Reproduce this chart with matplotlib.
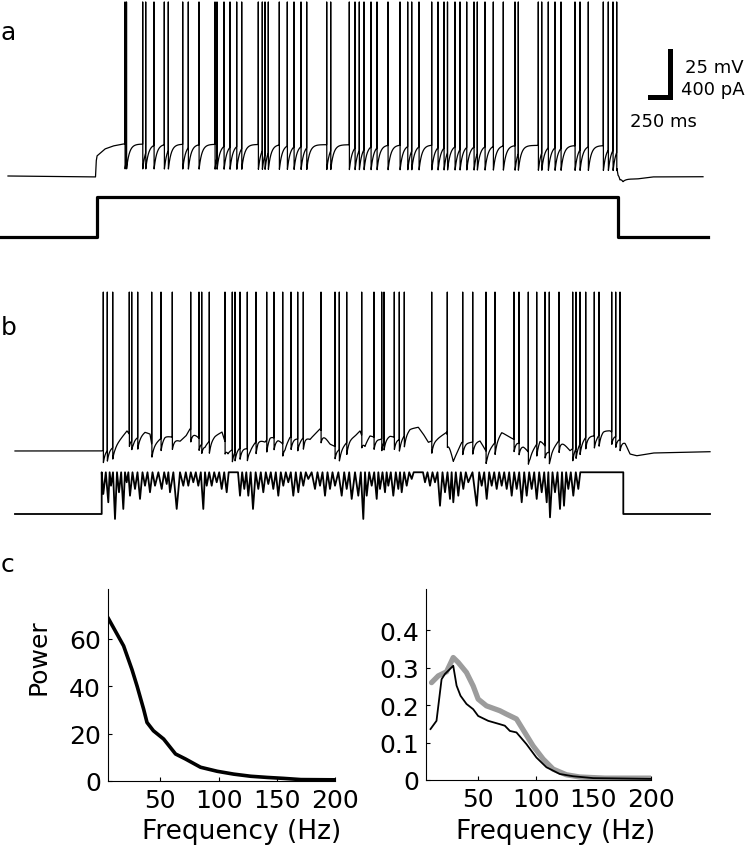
import numpy as np
import matplotlib
matplotlib.use('Agg')
import matplotlib.pyplot as plt

W, H = 746, 853

# ---- panel a: step current, spike times (ms) and membrane potential (mV) ----
a_spikes = [1250, 1265, 1427, 1457, 1540, 1643, 1683, 1827, 1883, 1990, 2150, 2170,
            2240, 2300, 2367, 2417, 2583, 2623, 2650, 2683, 2793, 2873, 2940, 3010,
            3067, 3267, 3307, 3493, 3550, 3593, 3640, 3710, 3770, 3880, 4000, 4077,
            4117, 4190, 4317, 4380, 4440, 4475, 4550, 4600, 4667, 4740, 4773, 4850,
            4933, 5033, 5150, 5183, 5383, 5417, 5483, 5550, 5610, 5750, 5800, 5883,
            6033, 6083, 6130, 6167]
a_sub_t = [80, 955, 962, 970, 1050, 1130, 1230, 6170, 6180, 6200, 6230, 6370, 6530, 7030]
a_sub_v = [-70, -70.5, -62, -59.1, -55.3, -53.7, -52.6, -53.5, -60.8, -67.8, -71.6, -71.6, -70.5, -70.4]
a_step_t = [0, 967, 967, 6183, 6183, 7080]
a_step_i = [0, 0, 350, 350, 0, 0]

# ---- panel b: noisy current injection ----
b_spikes = [1033, 1073, 1127, 1293, 1317, 1377, 1517, 1610, 1723, 1907, 1990, 2017,
            2093, 2250, 2323, 2350, 2400, 2473, 2560, 2667, 2740, 2827, 2910, 2977,
            3033, 3210, 3350, 3393, 3467, 3617, 3740, 3817, 3840, 3943, 3993, 4043,
            4317, 4473, 4627, 4727, 4860, 4950, 5140, 5190, 5283, 5367, 5450, 5493,
            5590, 5727, 5760, 5800, 5857, 5943, 5990, 6117, 6157, 6200]
b_sub_t = [150, 1017, 1150, 1230, 1270, 1330, 1400, 1450, 1500, 1520, 1600, 1650, 1720,
           1800, 1860, 1900, 2000, 2050, 2150, 2220, 2280, 2400, 2500, 2580, 2650, 2700,
           2780, 2850, 2900, 3000, 3050, 3100, 3150, 3200, 3300, 3400, 3500, 3550, 3600,
           3650, 3700, 3800, 3900, 4000, 4100, 4183, 4233, 4283, 4367, 4467, 4533, 4617,
           4700, 4800, 4867, 4950, 5017, 5100, 5167, 5233, 5300, 5400, 5500, 5600, 5700,
           5767, 5867, 5967, 6033, 6100, 6167, 6250, 6300, 6367, 6533, 7100]
b_sub_v = [-70, -70, -67.3, -61.8, -59.1, -63.5, -61.8, -59.7, -60.8, -67.3, -63.5, -61.8,
           -62.4, -64.6, -61.8, -58.0, -63.5, -66.7, -61.8, -59.7, -70.0, -67.8, -68.9,
           -63.5, -65.1, -61.8, -63.5, -67.3, -62.4, -63.5, -61.8, -63.5, -60.8, -58.0,
           -66.2, -68.9, -63.5, -61.8, -59.1, -66.2, -61.7, -63.5, -61.7, -63.5, -58.0,
           -57.1, -60.8, -65.3, -63.5, -59.8, -75.3, -65.3, -65.3, -64.4, -70.7, -65.3,
           -59.8, -62.6, -64.4, -67.1, -71.6, -63.5, -70.7, -63.5, -69.8, -67.1, -61.7,
           -61.7, -59.0, -59.0, -61.7, -65.3, -71.6, -72.6, -71.1, -70.4]

# downward deflections of the injected current (time ms, pA); clipped at the top
b_dip_t = [1033, 1083, 1110, 1150, 1190, 1233, 1267, 1300, 1350, 1400, 1450, 1500, 1550,
           1617, 1667, 1700, 1767, 1833, 1883, 1933, 1983, 2033, 2067, 2117, 2167, 2217,
           2267, 2400, 2443, 2483, 2530, 2583, 2633, 2683, 2733, 2783, 2833, 2883, 2933,
           2983, 3033, 3083, 3150, 3200, 3250, 3300, 3350, 3417, 3467, 3517, 3583, 3633,
           3667, 3717, 3767, 3800, 3850, 3883, 3933, 3983, 4017, 4067, 4117, 4250, 4300,
           4350, 4400, 4450, 4500, 4533, 4583, 4633, 4683, 4767, 4817, 4867, 4917, 4967,
           5017, 5067, 5117, 5167, 5217, 5267, 5317, 5367, 5417, 5467, 5500, 5550, 5600,
           5640, 5683, 5733, 5783]
b_dip_i = [174, 102, 246, -43, 189, 44, 276, 159, 218, 131, 246, 189, 246, 218, 261, 189,
           44, 246, 246, 276, 246, 44, 246, 246, 276, 218, 189, 159, 218, 159, 44, 218,
           189, 261, 218, 159, 246, 276, 159, 189, 246, 305, 218, 246, 159, 218, 246, 159,
           218, 131, 159, -43, 159, 246, 131, 218, 189, 246, 159, 218, 189, 246, 305, 276,
           246, 276, 72, 189, 131, 102, 159, 218, 276, 72, 246, 131, 246, 218, 246, 218,
           159, 218, 102, 159, 218, 131, 189, 102, -29, 189, 44, 72, 218, 159, 218]
b_ceiling = 363
b_on, b_off, b_start, b_end = 1017, 6233, 150, 7100

# ---- panel c: power spectra ----
left_freq = [5.4, 18.4, 25.6, 30, 35.6, 38.5, 44, 52.8, 63, 71.5, 84.5, 98.8, 113,
             127.6, 142, 156, 170.7, 199]
left_power = [68.5, 57, 47, 40, 30.3, 24.7, 21.2, 17.7, 11.4, 9.3, 5.8, 4.1, 2.9, 2.0,
              1.5, 1.1, 0.6, 0.5]
black_freq = [8.9, 14.1, 18.5, 21.4, 28.6, 31.5, 34.9, 40.1, 45.9, 50.2, 58.9, 69, 73.3,
              77.7, 83.4, 92, 100.7, 109.4, 121, 132.5, 150, 175, 200]
black_power = [0.136, 0.158, 0.269, 0.283, 0.305, 0.252, 0.225, 0.203, 0.189, 0.171,
               0.158, 0.149, 0.145, 0.131, 0.127, 0.096, 0.06, 0.034, 0.016, 0.01, 0.005,
               0.004, 0.003]
gray_freq = [9.8, 15.6, 22.8, 28.6, 32.9, 40.1, 45.9, 50.2, 57.4, 69, 74.7, 83.4, 90.6,
             97.8, 106.5, 115.2, 126.7, 138.3, 160, 200]
gray_power = [0.26, 0.278, 0.289, 0.327, 0.314, 0.287, 0.251, 0.216, 0.198, 0.185, 0.176,
              0.163, 0.127, 0.091, 0.056, 0.029, 0.014, 0.008, 0.005, 0.005]


def px_axes(fig, x0, y0, x1, y1):
    # axes placed by pixel box (top-left origin)
    return fig.add_axes([x0 / W, 1 - y1 / H, (x1 - x0) / W, (y1 - y0) / H])


def spike_trace(sub_t, sub_v, spikes, peak, ahp, tau):
    t = np.arange(sub_t[0], sub_t[-1] + 1, 1.0)
    v = np.interp(t, sub_t, sub_v)
    last = np.full(t.shape, -np.inf)
    for s in spikes:
        last[t > s] = s
    v = v - ahp * np.exp(-(t - last) / tau)
    v[np.searchsorted(t, spikes)] = peak
    return t, v


def current_trace(dip_t, dip_i):
    xs = [b_start, b_on, b_on]
    ys = [0, 0, b_ceiling]
    for k, (t, i) in enumerate(zip(dip_t, dip_i)):
        xs.append(t)
        ys.append(i)
        nxt = dip_t[k + 1] if k + 1 < len(dip_t) else b_off
        if nxt - t > 90:
            xs += [t + 20, nxt - 20]
            ys += [b_ceiling, b_ceiling]
        else:
            xs.append((t + nxt) / 2)
            ys.append(b_ceiling)
    xs += [b_off, b_off, b_end]
    ys += [b_ceiling, 0, 0]
    return xs, ys


fig = plt.figure(figsize=(W / 100, H / 100), dpi=100)

# panel a voltage
ax_av = px_axes(fig, 0, 0, W, 190)
t, v = spike_trace(a_sub_t, a_sub_v, a_spikes, 24.6, 14, 28)
ax_av.plot(t, v, color='k', lw=0.9)
ax_av.set_xlim(0, W * 10)
ax_av.set_ylim(-77.07, 26.2)
ax_av.axis('off')

# scale bar
ax_av.plot([6495, 6700], [-26.8, -26.8], color='k', lw=3.6, solid_capstyle='projecting')
ax_av.plot([6700, 6700], [-26.8, -1.8], color='k', lw=3.6, solid_capstyle='projecting')

# panel a current step
ax_ai = px_axes(fig, 0, 190, W, 250)
ax_ai.plot(a_step_t, a_step_i, color='k', lw=2.3)
ax_ai.set_xlim(0, W * 10)
ax_ai.set_ylim(-104.4, 417.6)
ax_ai.axis('off')

# panel b voltage
ax_bv = px_axes(fig, 0, 280, W, 470)
t, v = spike_trace(b_sub_t, b_sub_v, b_spikes, 16.4, 7, 20)
ax_bv.plot(t, v, color='k', lw=0.9)
ax_bv.set_xlim(0, W * 10)
ax_bv.set_ylim(-79.8, 23.5)
ax_bv.axis('off')

# panel b current
ax_bi = px_axes(fig, 0, 465, W, 530)
cx, cy = current_trace(b_dip_t, b_dip_i)
ax_bi.plot(cx, cy, color='k', lw=1.3)
ax_bi.set_xlim(0, W * 10)
ax_bi.set_ylim(-130.5, 435)
ax_bi.axis('off')


def style_axes(ax):
    for side in ['top', 'right']:
        ax.spines[side].set_visible(False)
    for side in ['left', 'bottom']:
        ax.spines[side].set_linewidth(0.8)
    ax.tick_params(direction='in', length=3, width=0.8, labelsize=18, pad=5)
    ax.set_xlim(5, 200)
    ax.set_xticks([50, 100, 150, 200])


ax_l = px_axes(fig, 108, 590, 335, 782)
ax_l.plot(left_freq, left_power, color='k', lw=2.6)
style_axes(ax_l)
ax_l.set_ylim(0, 81)
ax_l.set_yticks([0, 20, 40, 60])

ax_r = px_axes(fig, 426, 590, 651, 781)
ax_r.plot(gray_freq, gray_power, color='#9c9c9c', lw=3.8, solid_capstyle='round')
ax_r.plot(black_freq, black_power, color='k', lw=1.3)
style_axes(ax_r)
ax_r.set_ylim(0, 0.51)
ax_r.set_yticks([0, 0.1, 0.2, 0.3, 0.4])
ax_r.set_yticklabels(['0', '0.1', '0.2', '0.3', '0.4'])


def ftext(x, y, s, **kw):
    fig.text(x / W, 1 - y / H, s, **kw)


ftext(38, 657, 'Power', fontsize=18, rotation=90, ha='center', va='center')
ftext(242, 832, 'Frequency (Hz)', fontsize=19, ha='center', va='center')
ftext(556, 832, 'Frequency (Hz)', fontsize=19, ha='center', va='center')

ftext(685, 68, '25 mV', fontsize=13, ha='left', va='center')
ftext(681, 90, '400 pA', fontsize=13, ha='left', va='center')
ftext(630, 122, '250 ms', fontsize=13, ha='left', va='center')

ftext(1, 40, 'a', fontsize=18, va='baseline')
ftext(1, 335, 'b', fontsize=18, va='baseline')
ftext(1, 572, 'c', fontsize=18, va='baseline')

fig.savefig('out.png', dpi=100)
